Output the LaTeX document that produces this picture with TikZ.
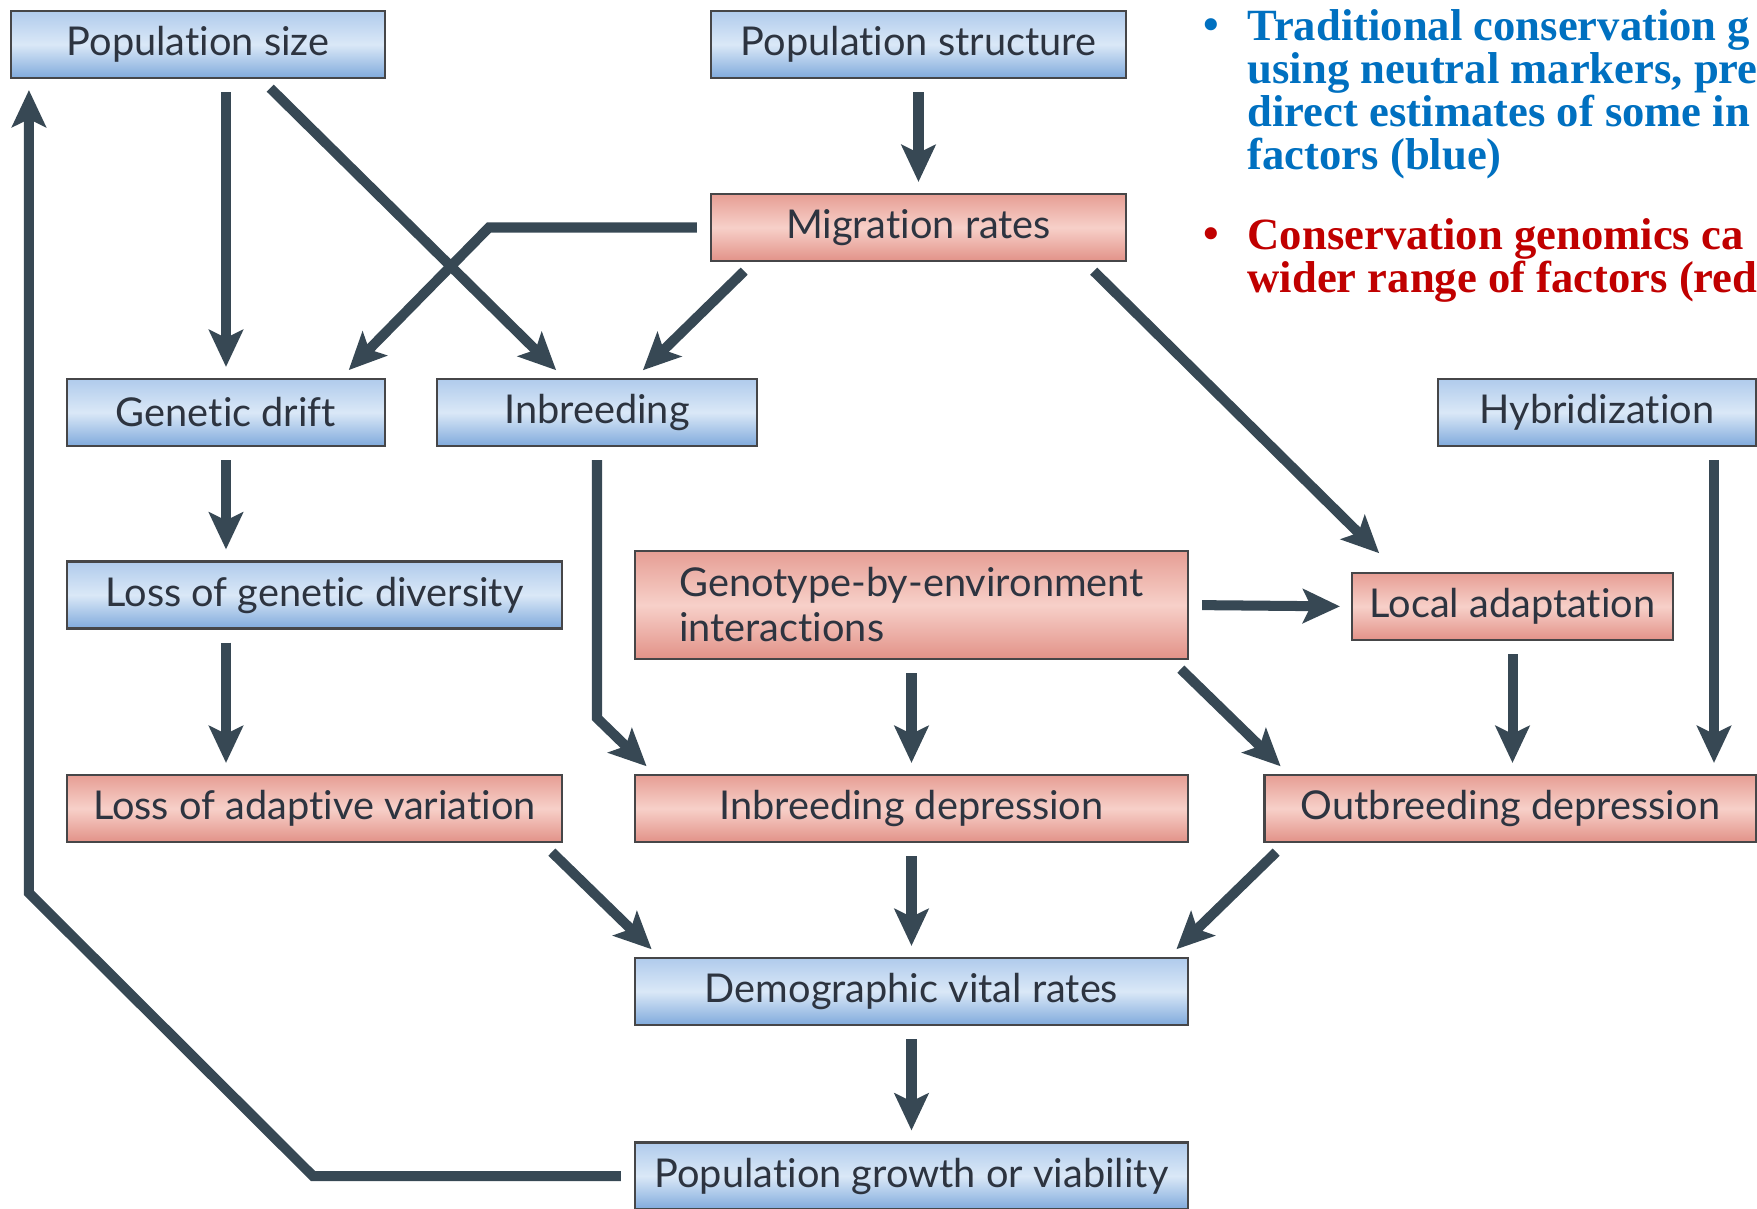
\documentclass[tikz,border=0pt]{standalone}
\usepackage{fontspec}
\setmainfont[Ligatures=NoCommon]{Lato}
\newfontfamily\slidefont{Liberation Serif}
\usepackage{tikz}
\usepackage{xcolor}
\usetikzlibrary{arrows.meta,positioning,calc}
\definecolor{bluetop}{RGB}{176,203,236}
\definecolor{bluemid}{RGB}{218,232,247}
\definecolor{bluebot}{RGB}{128,170,220}
\definecolor{redtop}{RGB}{230,158,148}
\definecolor{redmid}{RGB}{247,208,201}
\definecolor{redbot}{RGB}{226,146,136}
\definecolor{edgegray}{RGB}{70,70,72}
\definecolor{arrowslate}{RGB}{55,72,84}
\definecolor{labelgray}{RGB}{45,52,64}
\definecolor{slideblue}{RGB}{0,112,192}
\definecolor{slidered}{RGB}{192,0,0}

\begin{document}
\begin{tikzpicture}[
    box/.style={draw=edgegray, line width=0.6pt, minimum height=0.67cm, inner sep=0pt,
        font=\fontsize{11.3}{12.8}\selectfont, text=labelgray},
    bluebox/.style={box, top color=bluetop, bottom color=bluebot, middle color=bluemid},
    redbox/.style={box, top color=redtop, bottom color=redbot, middle color=redmid},
    arrowline/.style={draw=arrowslate, line width=2.85pt,
        -{Stealth[length=0.37cm,width=0.34cm,inset=0.08cm]},
        shorten <=0.13cm, shorten >=0.11cm},
    slidetext/.style={inner sep=0pt, font=\slidefont\bfseries\fontsize{12.7}{12.2}\selectfont}
]
    \clip (0,0) rectangle (17.57,12.08);

    % Top row
    \node[bluebox, minimum width=3.74cm] (popsize) at (1.98,11.635) {Population size};
    \node[bluebox, minimum width=4.15cm] (popstruct) at (9.185,11.635) {Population structure};
    \node[redbox, minimum width=4.15cm] (migration) at (9.185,9.805) {Migration rates};

    % Second row
    \node[bluebox, minimum width=3.18cm] (drift) at (2.26,7.955) {Genetic drift};
    \node[bluebox, minimum width=3.20cm] (inbreeding) at (5.97,7.955) {Inbreeding};
    \node[bluebox, minimum width=3.18cm] (hybrid) at (15.97,7.955) {Hybridization};

    % Third row
    \node[bluebox, minimum width=4.95cm] (lossgd) at (3.145,6.13) {Loss of genetic diversity};
    \node[redbox, minimum width=5.53cm, minimum height=1.08cm, align=left]
        (gxe) at (9.115,6.03) {Genotype-by-environment\\interactions};
    \node[redbox, minimum width=3.21cm] (localad) at (15.125,6.015) {Local adaptation};

    % Fourth row
    \node[redbox, minimum width=4.95cm] (lossav) at (3.145,3.995) {Loss of adaptive variation};
    \node[redbox, minimum width=5.53cm] (inbdep) at (9.115,3.995) {Inbreeding depression};
    \node[redbox, minimum width=4.92cm] (outdep) at (15.105,3.995) {Outbreeding depression};

    % Bottom
    \node[bluebox, minimum width=5.53cm] (demo) at (9.115,2.165) {Demographic vital rates};
    \node[bluebox, minimum width=5.53cm] (growth) at (9.115,0.32) {Population growth or viability};

    % Slide notes
    \node[slidetext, text=slideblue, anchor=base west] (bluedot) at (12.03,11.69) {\textbullet};
    \node[slidetext, text=slideblue, anchor=north west, align=left] (bluenote) at (12.47,11.99)
        {Traditional conservation g\\using neutral markers, pre\\direct estimates of some in\\factors (blue)};
    \node[slidetext, text=slidered, anchor=base west] (reddot) at (12.03,9.60) {\textbullet};
    \node[slidetext, text=slidered, anchor=north west, align=left] (rednote) at (12.47,9.90)
        {Conservation genomics ca\\wider range of factors (red};

    % Arrows
    \draw[arrowline] (drift.north |- popsize.south) -- (drift.north);
    \draw[arrowline] ([xshift=0.63cm]popsize.south) -- ([xshift=-0.33cm]inbreeding.north);
    \draw[arrowline] (popstruct.south) -- (migration.north);
    \draw[arrowline] (migration.west) -- ++(-2.21,0) -- ([xshift=1.15cm]drift.north);
    \draw[arrowline] ([xshift=-1.65cm]migration.south) -- ([xshift=0.38cm]inbreeding.north);
    \draw[arrowline] ([xshift=1.66cm]migration.south) -- ([xshift=-1.255cm,yshift=0.11cm]localad.north);
    \draw[arrowline] ([xshift=1.17cm]hybrid.south) -- ([xshift=1.17cm]hybrid.south |- outdep.north);
    \draw[arrowline] (drift.south) -- (drift.south |- lossgd.north);
    \draw[arrowline] (lossgd.south -| drift.south) -- (lossav.north -| drift.south);
    \draw[arrowline] (inbreeding.south) -- ++(0,-2.71) -- ([xshift=-2.57cm]inbdep.north);
    \draw[arrowline] (gxe.east) -- (localad.west);
    \draw[arrowline] (gxe.south) -- (inbdep.north);
    \draw[arrowline] ([xshift=2.6cm]gxe.south) -- ([xshift=-2.22cm]outdep.north);
    \draw[arrowline] (localad.south) -- (localad.south |- outdep.north);
    \draw[arrowline] ([xshift=2.28cm]lossav.south) -- ([xshift=-2.52cm]demo.north);
    \draw[arrowline] (inbdep.south) -- (demo.north);
    \draw[arrowline] ([xshift=-2.25cm]outdep.south) -- ([xshift=2.57cm]demo.north);
    \draw[arrowline] (demo.south) -- (growth.north);
    \draw[arrowline] (growth.west) -- ++(-3.21,0) -- ++(-2.84,2.83) -- ([xshift=0.19cm]popsize.south west);
\end{tikzpicture}
\end{document}
